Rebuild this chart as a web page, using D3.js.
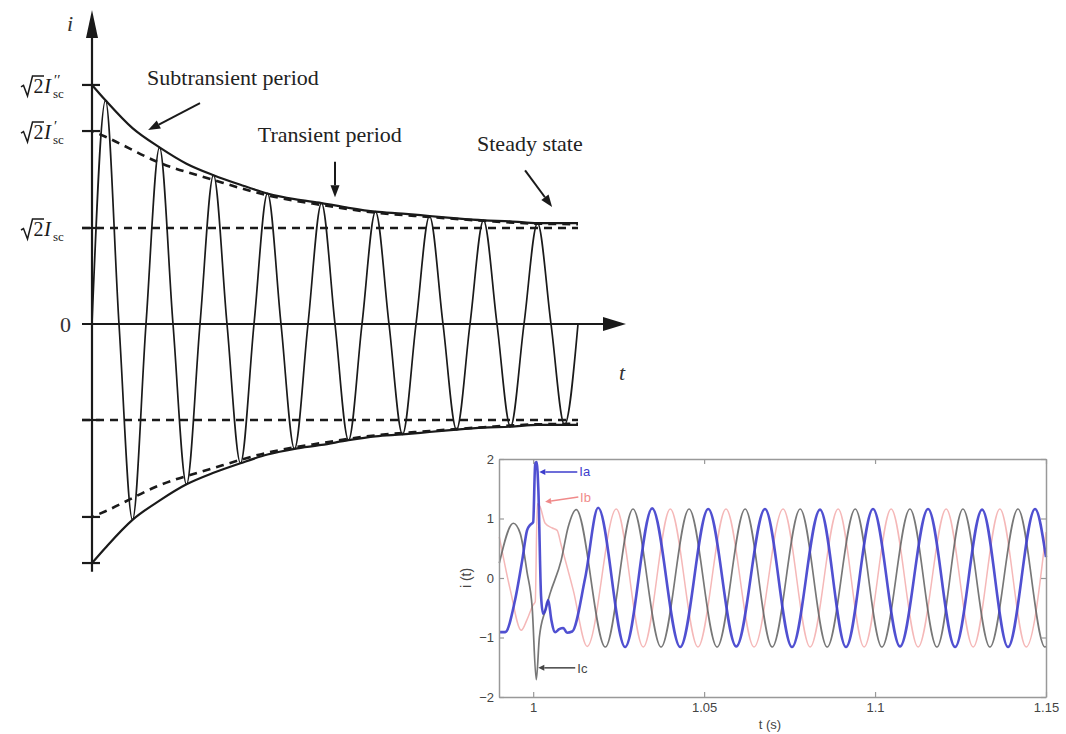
<!DOCTYPE html>
<html>
<head>
<meta charset="utf-8">
<script src="https://cdn.jsdelivr.net/npm/d3@7"></script>
<style>
body { margin: 0; background: #fff; }
svg { display: block; }
</style>
</head>
<body>
<script>
// left sketch: t in cycles, i in units of sqrt(2)*Isc
var envT     = [0, 0.25, 0.75, 1.25, 1.75, 2.25, 2.75, 3.25, 3.75, 4.25, 4.75, 5.25, 5.75, 6.25, 6.75, 7.25, 7.75, 8.25, 8.75, 9];
var envSub   = [2.49, 2.33, 2.04, 1.84, 1.67, 1.55, 1.45, 1.36, 1.30, 1.26, 1.21, 1.17, 1.15, 1.125, 1.10, 1.08, 1.07, 1.05, 1.05, 1.05];
var transT   = [0, 0.25, 1.25, 2.25, 3.25, 4.25, 5.25, 6.25, 7.25, 8.25, 9];
var envTrans = [2.01, 1.95, 1.68, 1.50, 1.34, 1.24, 1.16, 1.115, 1.075, 1.045, 1.04];
var steadyLevel = 1;
var tEnd = 9;

// text, text pos (t,i), arrow tail (t,i), arrow tip (t,i)
var leftNotes = [
  ["Subtransient period", 1.02, 2.49, 2.0, 2.30, 1.04, 2.02],
  ["Transient period", 3.07, 1.90, 4.5, 1.69, 4.5, 1.32],
  ["Steady state", 7.13, 1.80, 8.02, 1.60, 8.52, 1.22]
];

// inset: phase currents around the fault
var iaT = [0.9901, 0.9918, 0.9947, 0.9968, 0.9982, 0.9991, 1.0000, 1.0006, 1.0010, 1.0015, 1.0023, 1.0029, 1.0035, 1.0044, 1.0053, 1.0064, 1.0076, 1.0088, 1.0099, 1.0114, 1.0152,
           1.0190, 1.0269, 1.0348, 1.0430, 1.0512, 1.0594, 1.0678, 1.0757, 1.0839, 1.0915, 1.0994, 1.1073, 1.1155, 1.1234, 1.1313, 1.1389, 1.1468, 1.1500];
var iaV = [-0.91, -0.91, -0.37, 0.30, 0.80, 0.89, 0.94, 1.93, 1.95, 1.50, -0.30, -0.60, -0.55, -0.37, -0.70, -0.91, -0.86, -0.84, -0.92, -0.90, 0.00,
           1.18, -1.16, 1.17, -1.16, 1.16, -1.15, 1.16, -1.16, 1.15, -1.16, 1.16, -1.15, 1.16, -1.16, 1.15, -1.16, 1.16, 0.35];
var ibT = [0.9901, 0.9933, 0.9965, 0.9982, 1.0000, 1.0006, 1.0012, 1.0020, 1.0035, 1.0056, 1.0070, 1.0082, 1.0117, 1.0158,
           1.0243, 1.0322, 1.0401, 1.0482, 1.0564, 1.0646, 1.0731, 1.0810, 1.0892, 1.0968, 1.1047, 1.1126, 1.1208, 1.1287, 1.1365, 1.1442, 1.1500];
var ibV = [0.69, -0.20, -0.88, -0.70, -0.45, -0.40, 1.25, 1.20, 0.92, 0.84, 0.80, 0.55, -0.20, -1.15,
           1.16, -1.16, 1.16, -1.16, 1.16, -1.16, 1.16, -1.16, 1.16, -1.16, 1.16, -1.16, 1.16, -1.16, 1.16, -1.16, 0.77];
var icT = [0.9901, 0.9942, 0.9962, 0.9982, 0.9997, 1.0009, 1.0018, 1.0035, 1.0050, 1.0082, 1.0102, 1.0126,
           1.0211, 1.0292, 1.0374, 1.0456, 1.0538, 1.0620, 1.0699, 1.0781, 1.0860, 1.0942, 1.1020, 1.1102, 1.1181, 1.1257, 1.1336, 1.1418, 1.1497, 1.1500];
var icV = [0.25, 0.92, 0.75, 0.10, -0.49, -1.71, -1.00, -0.55, -0.25, 0.30, 0.85, 1.15,
           -1.16, 1.16, -1.16, 1.16, -1.16, 1.16, -1.16, 1.16, -1.16, 1.16, -1.16, 1.16, -1.16, 1.16, -1.16, 1.16, -1.16, -1.15];
var insetXTicks = [1, 1.05, 1.1, 1.15];
var insetYTicks = [-2, -1, 0, 1, 2];
// name, text pos, arrow tail, arrow tip
var insetNotes = [
  ["Ia", 1.0135, 1.71, 1.0129, 1.78, 1.0018, 1.78],
  ["Ib", 1.0137, 1.28, 1.0132, 1.36, 1.0035, 1.28],
  ["Ic", 1.0129, -1.60, 1.0123, -1.51, 1.0015, -1.51]
];

var ink = "#1a1a1a";
var serif = "'Liberation Serif', 'DejaVu Serif', serif";
var sans = "'Liberation Sans', Arial, sans-serif";

var svg = d3.select("body").append("svg").attr("width", 1066).attr("height", 734);

function arrow(g, x1, y1, x2, y2, len, half, color, w) {
  var a = Math.atan2(y2 - y1, x2 - x1);
  var bx = x2 - len * Math.cos(a), by = y2 - len * Math.sin(a);
  g.append("line").attr("x1", x1).attr("y1", y1).attr("x2", bx).attr("y2", by)
    .attr("stroke", color).attr("stroke-width", w);
  var px = -Math.sin(a) * half, py = Math.cos(a) * half;
  g.append("path")
    .attr("d", "M" + x2 + "," + y2 + "L" + (bx + px) + "," + (by + py) + "L" + (bx - px) + "," + (by - py) + "Z")
    .attr("fill", color);
}

// ---------- left sketch ----------
var xL = d3.scaleLinear().domain([0, tEnd]).range([92, 578]);
var yL = d3.scaleLinear().domain([-1, 1]).range([420, 228]);
var left = svg.append("g");

var envLine = d3.line().x(function (d) { return xL(d[0]); }).y(function (d) { return yL(d[1]); }).curve(d3.curveMonotoneX);

// steady-state dashed levels
[steadyLevel, -steadyLevel].forEach(function (v) {
  left.append("line").attr("x1", 82).attr("x2", xL(tEnd)).attr("y1", yL(v)).attr("y2", yL(v))
    .attr("stroke", ink).attr("stroke-width", 2.6).attr("stroke-dasharray", "8,6");
});

// transient envelope (dashed)
[1, -1].forEach(function (s) {
  left.append("path").datum(transT.map(function (t, i) { return [t, s * envTrans[i]]; }))
    .attr("d", envLine).attr("fill", "none").attr("stroke", ink)
    .attr("stroke-width", 2.6).attr("stroke-dasharray", "8,6").attr("stroke-dashoffset", -8);
});

// subtransient envelope (solid)
[1, -1].forEach(function (s) {
  left.append("path").datum(envT.map(function (t, i) { return [t, s * envSub[i]]; }))
    .attr("d", envLine).attr("fill", "none").attr("stroke", ink).attr("stroke-width", 2.2);
});

// current wave: zeros every half cycle, extremes on the envelope
var wave = [[0, 0]];
for (var k = 1; k < envT.length - 1; k++) {
  wave.push([envT[k], (k % 2 ? 1 : -1) * envSub[k]]);
  wave.push([envT[k] + 0.25, 0]);
}
left.append("path").datum(wave).attr("d", envLine)
  .attr("fill", "none").attr("stroke", ink).attr("stroke-width", 1.7);

// axes
left.append("line").attr("x1", 92).attr("x2", 92).attr("y1", yL(-2.58)).attr("y2", 36)
  .attr("stroke", ink).attr("stroke-width", 2.2);
left.append("path").attr("d", "M92,10 L86,38 L98,38 Z").attr("fill", ink);
left.append("line").attr("x1", 82).attr("x2", 606).attr("y1", yL(0)).attr("y2", yL(0))
  .attr("stroke", ink).attr("stroke-width", 2.2);
left.append("path").attr("d", "M626," + yL(0) + " L603," + (yL(0) - 7) + " L603," + (yL(0) + 7) + " Z").attr("fill", ink);

var tickVals = [envSub[0], envTrans[0], steadyLevel, -steadyLevel, -envTrans[0], -envSub[0]];
left.selectAll("line.ytick").data(tickVals).enter().append("line").attr("class", "ytick")
  .attr("x1", 82).attr("x2", 100).attr("y1", function (d) { return yL(d); }).attr("y2", function (d) { return yL(d); })
  .attr("stroke", ink).attr("stroke-width", 2.2);

function rootLabel(y, primes) {
  var g = left.append("g").attr("transform", "translate(21," + y + ")")
    .style("font-family", serif).attr("fill", ink);
  g.append("path").attr("d", "M0,2 L2.5,0.5 L6.5,11 L11.5,-9 H23")
    .attr("fill", "none").attr("stroke", ink).attr("stroke-width", 1.5);
  g.append("text").attr("x", 12.5).attr("y", 8).style("font-size", "20px").text("2");
  g.append("text").attr("x", 23).attr("y", 8).style("font-size", "21px").style("font-style", "italic").text("I");
  if (primes) g.append("text").attr("x", 33).attr("y", 0).style("font-size", "15px").text(primes);
  g.append("text").attr("x", 32).attr("y", 13).style("font-size", "13px").text("sc");
}
rootLabel(yL(envSub[0]), "\u2032\u2032");
rootLabel(yL(envTrans[0]), "\u2032");
rootLabel(yL(steadyLevel), "");

left.append("text").attr("x", 60).attr("y", yL(0) + 8).style("font-family", serif).style("font-size", "22px")
  .attr("fill", "#333").text("0");
left.append("text").attr("x", 67).attr("y", 31).style("font-family", serif).style("font-size", "22px")
  .style("font-style", "italic").attr("fill", "#333").text("i");
left.append("text").attr("x", 619).attr("y", 380).style("font-family", serif).style("font-size", "22px")
  .style("font-style", "italic").attr("fill", "#333").text("t");

leftNotes.forEach(function (n) {
  left.append("text").attr("x", xL(n[1])).attr("y", yL(n[2]))
    .style("font-family", serif).style("font-size", "22px").attr("fill", "#222").text(n[0]);
  arrow(left, xL(n[3]), yL(n[4]), xL(n[5]), yL(n[6]), 12, 4.5, ink, 2);
});

// ---------- inset ----------
var xR = d3.scaleLinear().domain([0.99, 1.15]).range([499, 1046]);
var yR = d3.scaleLinear().domain([-2, 2]).range([697, 459]);
var inset = svg.append("g");

var phaseLine = d3.line().x(function (d) { return xR(d[0]); }).y(function (d) { return yR(d[1]); }).curve(d3.curveMonotoneX);
function pairs(T, V) { return T.map(function (t, i) { return [t, V[i]]; }); }

inset.append("path").datum(pairs(ibT, ibV)).attr("d", phaseLine)
  .attr("fill", "none").attr("stroke", "#f5b8b8").attr("stroke-width", 1.5);
inset.append("path").datum(pairs(icT, icV)).attr("d", phaseLine)
  .attr("fill", "none").attr("stroke", "#5f5f5f").attr("stroke-width", 1.7).attr("stroke-opacity", 0.85);
inset.append("path").datum(pairs(iaT, iaV)).attr("d", phaseLine)
  .attr("fill", "none").attr("stroke", "#3d3dcc").attr("stroke-width", 2.6).attr("stroke-opacity", 0.9);

function styleAxis(g) {
  g.selectAll("path.domain").attr("stroke", "#999").attr("stroke-width", 1.5);
  g.selectAll(".tick line").attr("stroke", "#999").attr("stroke-width", 1.2);
  g.selectAll(".tick text").style("font-family", sans).style("font-size", "13px").attr("fill", "#444");
}
inset.append("g").attr("transform", "translate(0,697)")
  .call(d3.axisBottom(xR).tickValues(insetXTicks).tickSizeInner(-5).tickSizeOuter(0).tickPadding(6).tickFormat(d3.format("")))
  .call(styleAxis);
inset.append("g").attr("transform", "translate(0,459)")
  .call(d3.axisTop(xR).tickValues(insetXTicks).tickSizeInner(-5).tickSizeOuter(0).tickFormat(""))
  .call(styleAxis);
inset.append("g").attr("transform", "translate(499,0)")
  .call(d3.axisLeft(yR).tickValues(insetYTicks).tickSizeInner(-5).tickSizeOuter(0).tickPadding(5).tickFormat(d3.format("d")))
  .call(styleAxis);
inset.append("g").attr("transform", "translate(1046,0)")
  .call(d3.axisRight(yR).tickValues(insetYTicks).tickSizeInner(-5).tickSizeOuter(0).tickFormat(""))
  .call(styleAxis);

inset.append("text").attr("transform", "translate(471,578) rotate(-90)").attr("text-anchor", "middle")
  .style("font-family", sans).style("font-size", "14px").attr("fill", "#444").text("i (t)");
inset.append("text").attr("x", 770).attr("y", 729).attr("text-anchor", "middle")
  .style("font-family", sans).style("font-size", "13px").attr("fill", "#444").text("t (s)");

var noteColors = { Ia: "#3d3dcc", Ib: "#f08a8a", Ic: "#444" };
insetNotes.forEach(function (n) {
  arrow(inset, xR(n[3]), yR(n[4]), xR(n[5]), yR(n[6]), 6, 3, noteColors[n[0]], 1.5);
  inset.append("text").attr("x", xR(n[1])).attr("y", yR(n[2]))
    .style("font-family", sans).style("font-size", "13px").attr("fill", noteColors[n[0]]).text(n[0]);
});
</script>
</body>
</html>
